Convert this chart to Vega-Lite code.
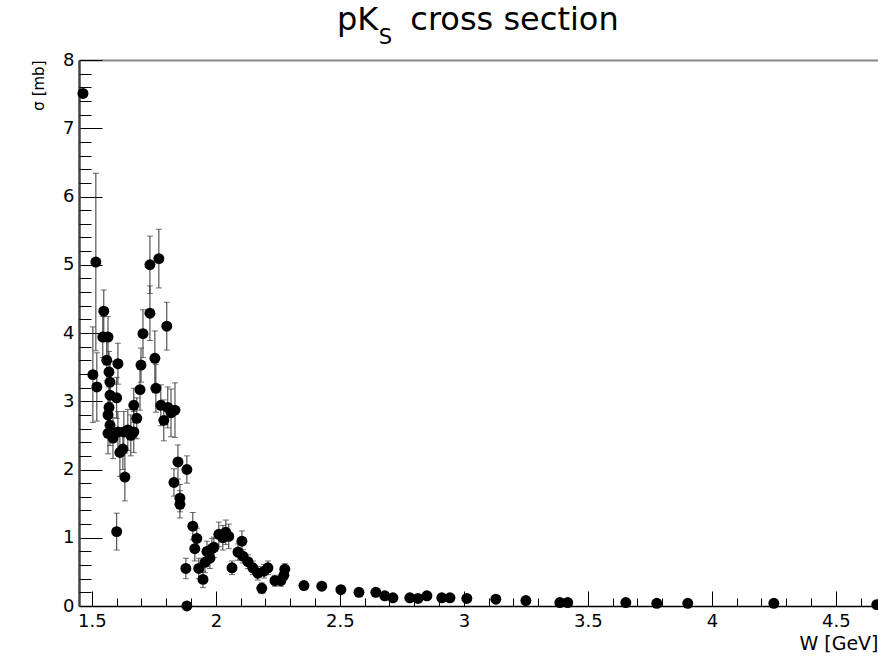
{
  "$schema": "https://vega.github.io/schema/vega-lite/v6.json",
  "width": 799,
  "height": 546,
  "autosize": {"type": "none"},
  "padding": {"left": 79, "top": 60, "right": 0, "bottom": 53},
  "background": "white",
  "config": {"view": {"stroke": null}, "font": "DejaVu Sans"},
  "title": {
    "text": "pK\u2003cross section",
    "anchor": "start",
    "frame": "group",
    "dx": 258,
    "baseline": "alphabetic",
    "font": "DejaVu Sans",
    "fontSize": 32,
    "fontWeight": "normal",
    "color": "black",
    "offset": -36
  },
  "data": {"values": [
    {"W":1.464,"s":7.51,"e":0.05},{"W":1.516,"s":5.04,"e":1.3},{"W":1.504,"s":3.39,"e":0.7},{"W":1.52,"s":3.21,"e":0.5},
    {"W":1.548,"s":4.32,"e":0.31},{"W":1.544,"s":3.94,"e":0.3},{"W":1.565,"s":3.94,"e":0.3},{"W":1.56,"s":3.6,"e":0.3},
    {"W":1.569,"s":3.43,"e":0.3},{"W":1.573,"s":3.28,"e":0.3},{"W":1.573,"s":3.09,"e":0.3},{"W":1.569,"s":2.91,"e":0.3},
    {"W":1.565,"s":2.8,"e":0.3},{"W":1.573,"s":2.65,"e":0.3},{"W":1.565,"s":2.53,"e":0.3},{"W":1.605,"s":3.55,"e":0.3},
    {"W":1.6,"s":3.05,"e":0.3},{"W":1.585,"s":2.46,"e":0.3},{"W":1.605,"s":2.55,"e":0.3},{"W":1.6,"s":1.09,"e":0.27},
    {"W":1.613,"s":2.25,"e":0.35},{"W":1.625,"s":2.3,"e":0.3},{"W":1.633,"s":1.89,"e":0.35},{"W":1.629,"s":2.55,"e":0.3},
    {"W":1.645,"s":2.58,"e":0.3},{"W":1.657,"s":2.5,"e":0.3},{"W":1.669,"s":2.55,"e":0.3},{"W":1.669,"s":2.94,"e":0.25},
    {"W":1.681,"s":2.75,"e":0.3},{"W":1.694,"s":3.17,"e":0.3},{"W":1.698,"s":3.53,"e":0.25},{"W":1.706,"s":3.99,"e":0.35},
    {"W":1.734,"s":4.29,"e":0.4},{"W":1.734,"s":5.0,"e":0.42},{"W":1.77,"s":5.09,"e":0.43},{"W":1.754,"s":3.63,"e":0.4},
    {"W":1.758,"s":3.19,"e":0.35},{"W":1.802,"s":4.1,"e":0.35},{"W":1.778,"s":2.94,"e":0.3},{"W":1.79,"s":2.72,"e":0.3},
    {"W":1.806,"s":2.91,"e":0.3},{"W":1.819,"s":2.83,"e":0.35},{"W":1.835,"s":2.87,"e":0.4},{"W":1.831,"s":1.81,"e":0.2},
    {"W":1.847,"s":2.11,"e":0.25},{"W":1.855,"s":1.58,"e":0.2},{"W":1.855,"s":1.49,"e":0.2},{"W":1.883,"s":2.0,"e":0.2},
    {"W":1.879,"s":0.55,"e":0.15},{"W":1.883,"s":0.0,"e":0.0},{"W":1.907,"s":1.17,"e":0.2},{"W":1.915,"s":0.84,"e":0.18},
    {"W":1.923,"s":0.99,"e":0.15},{"W":1.931,"s":0.55,"e":0.15},{"W":1.948,"s":0.39,"e":0.12},{"W":1.956,"s":0.64,"e":0.15},
    {"W":1.964,"s":0.8,"e":0.15},{"W":1.976,"s":0.7,"e":0.15},{"W":1.984,"s":0.84,"e":0.15},{"W":1.992,"s":0.86,"e":0.15},
    {"W":2.012,"s":1.05,"e":0.18},{"W":2.028,"s":1.0,"e":0.18},{"W":2.04,"s":1.08,"e":0.18},{"W":2.052,"s":1.02,"e":0.18},
    {"W":2.065,"s":0.56,"e":0.1},{"W":2.105,"s":0.95,"e":0.15},{"W":2.089,"s":0.79,"e":0.12},{"W":2.109,"s":0.73,"e":0.1},
    {"W":2.129,"s":0.65,"e":0.1},{"W":2.149,"s":0.56,"e":0.1},{"W":2.169,"s":0.48,"e":0.1},{"W":2.185,"s":0.26,"e":0.08},
    {"W":2.194,"s":0.51,"e":0.1},{"W":2.21,"s":0.56,"e":0.1},{"W":2.238,"s":0.37,"e":0.08},{"W":2.262,"s":0.37,"e":0.08},
    {"W":2.274,"s":0.45,"e":0.08},{"W":2.278,"s":0.54,"e":0.08},{"W":2.355,"s":0.3,"e":0.05},{"W":2.427,"s":0.29,"e":0.05},
    {"W":2.504,"s":0.24,"e":0.04},{"W":2.577,"s":0.2,"e":0.04},{"W":2.645,"s":0.2,"e":0.04},{"W":2.681,"s":0.15,"e":0.03},
    {"W":2.714,"s":0.12,"e":0.03},{"W":2.782,"s":0.12,"e":0.03},{"W":2.815,"s":0.11,"e":0.03},{"W":2.851,"s":0.15,"e":0.03},
    {"W":2.911,"s":0.12,"e":0.03},{"W":2.944,"s":0.12,"e":0.03},{"W":3.012,"s":0.11,"e":0.02},{"W":3.129,"s":0.1,"e":0.02},
    {"W":3.25,"s":0.08,"e":0.02},{"W":3.387,"s":0.05,"e":0.02},{"W":3.419,"s":0.05,"e":0.02},{"W":3.653,"s":0.05,"e":0.02},
    {"W":3.778,"s":0.04,"e":0.02},{"W":3.903,"s":0.04,"e":0.02},{"W":4.25,"s":0.04,"e":0.02},{"W":4.665,"s":0.02,"e":0.02}
  ]},
  "layer": [
    {
      "mark": {"type": "errorbar", "ticks": {"size": 6}, "color": "#333", "thickness": 1},
      "encoding": {
        "x": {"field": "W", "type": "quantitative",
          "scale": {"domain": [1.448, 4.67], "nice": false, "zero": false},
          "axis": {"orient": "bottom", "values": [1.5, 2, 2.5, 3, 3.5, 4, 4.5], "format": "~g", "grid": false,
            "tickSize": -15, "tickColor": "black", "tickWidth": 1,
            "domainColor": "black", "domainWidth": 1.5,
            "labelFont": "DejaVu Sans", "labelFontSize": 18, "labelColor": "black", "labelPadding": 21, "labelFlush": false,
            "title": "W [GeV]", "titleFont": "DejaVu Sans", "titleFontSize": 19, "titleFontWeight": "normal", "titleColor": "black",
            "titleAnchor": "end", "titleAlign": "right", "titleBaseline": "alphabetic", "titleX": 799, "titleY": 43}},
        "y": {"field": "s", "type": "quantitative",
          "scale": {"domain": [0, 8], "nice": false, "zero": false},
          "axis": {"orient": "left", "values": [0, 1, 2, 3, 4, 5, 6, 7, 8], "format": "~g", "grid": false,
            "tickSize": -23, "tickColor": "black", "tickWidth": 1,
            "domainColor": "#444", "domainWidth": 2.5,
            "labelFont": "DejaVu Sans", "labelFontSize": 18, "labelColor": "black", "labelPadding": 28, "labelFlush": false,
            "title": "σ [mb]", "titleFont": "DejaVu Sans", "titleFontSize": 15, "titleFontWeight": "normal", "titleColor": "black",
            "titleAngle": -90, "titleAnchor": "end", "titleAlign": "right", "titleBaseline": "alphabetic", "titleX": -36, "titleY": 0}},
        "yError": {"field": "e"}
      }
    },
    {
      "mark": {"type": "point", "filled": true, "size": 120, "color": "black", "opacity": 1},
      "encoding": {
        "x": {"field": "W", "type": "quantitative",
          "scale": {"domain": [1.448, 4.67], "nice": false, "zero": false},
          "axis": {"orient": "bottom", "values": [1.6, 1.7, 1.8, 1.9, 2.1, 2.2, 2.3, 2.4, 2.6, 2.7, 2.8, 2.9, 3.1, 3.2, 3.3, 3.4, 3.6, 3.7, 3.8, 3.9, 4.1, 4.2, 4.3, 4.4, 4.6],
            "grid": false, "tickSize": -8, "tickColor": "black", "tickWidth": 1, "domain": false, "labels": false, "title": null}},
        "y": {"field": "s", "type": "quantitative",
          "scale": {"domain": [0, 8], "nice": false, "zero": false},
          "axis": {"orient": "left", "values": [0.2, 0.4, 0.6, 0.8, 1.2, 1.4, 1.6, 1.8, 2.2, 2.4, 2.6, 2.8, 3.2, 3.4, 3.6, 3.8, 4.2, 4.4, 4.6, 4.8, 5.2, 5.4, 5.6, 5.8, 6.2, 6.4, 6.6, 6.8, 7.2, 7.4, 7.6, 7.8],
            "grid": false, "tickSize": -12, "tickColor": "black", "tickWidth": 1, "domain": false, "labels": false, "title": null}}
      }
    },
    {
      "mark": {"type": "point", "opacity": 0},
      "encoding": {
        "x": {"field": "W", "type": "quantitative",
          "scale": {"domain": [1.448, 4.67], "nice": false, "zero": false},
          "axis": {"orient": "top", "grid": false, "ticks": false, "labels": false, "domain": true, "domainColor": "#888", "domainWidth": 2,
            "title": "S", "titleFont": "DejaVu Sans", "titleFontSize": 21, "titleFontWeight": "normal", "titleColor": "black",
            "titleAngle": 0, "titleAlign": "center", "titleBaseline": "alphabetic", "titleX": 306, "titleY": -17}},
        "y": {"field": "s", "type": "quantitative",
          "scale": {"domain": [0, 8], "nice": false, "zero": false},
          "axis": null}
      }
    }
  ],
  "resolve": {"axis": {"x": "independent", "y": "independent"}}
}
